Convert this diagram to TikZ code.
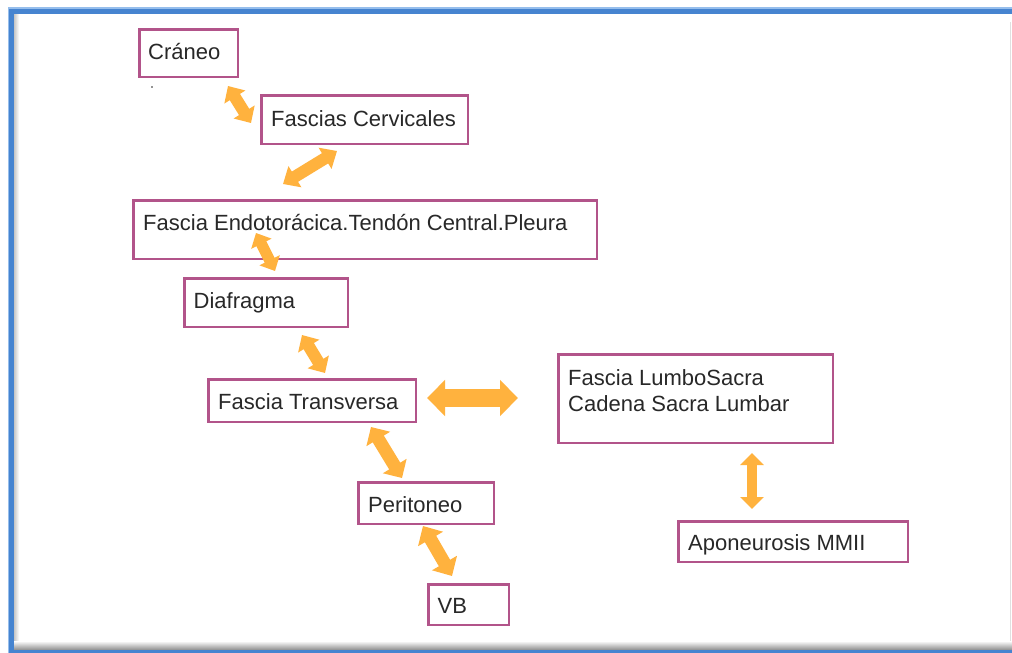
\documentclass[tikz,border=0pt]{standalone}
\usepackage{fontspec}
\setmainfont{Liberation Sans}
\usetikzlibrary{arrows.meta,calc}
\definecolor{boxrim}{RGB}{178,84,138}
\definecolor{linkorange}{RGB}{255,178,62}
\definecolor{frameblue}{RGB}{70,132,208}
\definecolor{framelight}{RGB}{150,190,236}
\definecolor{inktext}{RGB}{40,40,40}

\begin{document}
\begin{tikzpicture}[x=1pt,y=-1pt,
  box/.style={draw=boxrim, line width=2.6pt, rectangle, inner sep=0pt, anchor=north west},
  lbl/.style={text=inktext, font=\fontsize{22}{26}\selectfont, anchor=base west, inner sep=0pt},
  dblarrow/.style n args={3}{draw=linkorange, fill=linkorange, line width=#1,
    arrows={Triangle[width=#2,length=#3]-Triangle[width=#2,length=#3]}}]

\useasboundingbox (0,0) rectangle (1012,653);
\clip (0,0) rectangle (1012,653);

% window frame
\fill[framelight] (8,7) rectangle (1030,670);
\fill[frameblue] (9,8.5) rectangle (1030,670);
\fill[white] (14,14) rectangle (1030,650);
\shade[left color=black!22, right color=white] (14,14) rectangle (19,650);
\shade[top color=white, bottom color=black!45] (14,641) rectangle (1030,650);
\fill[frameblue] (9,650) rectangle (1030,660);
\draw[black!12, line width=1pt] (1010.5,22) -- (1010.5,641);

% boxes (path inset by half the rim width)
\node[box, minimum width=98.4pt,  minimum height=47.4pt] (cr) at (138.3,28.3) {};
\node[box, minimum width=206.4pt, minimum height=48.4pt] (fc) at (260.3,94.3) {};
\node[box, minimum width=463.4pt, minimum height=58.4pt] (fe) at (132.3,199.3) {};
\node[box, minimum width=163.4pt, minimum height=48.4pt] (di) at (183.3,277.3) {};
\node[box, minimum width=207.4pt, minimum height=42.4pt] (ft) at (207.3,378.3) {};
\node[box, minimum width=274.4pt, minimum height=88.4pt] (ls) at (557.3,353.3) {};
\node[box, minimum width=135.4pt, minimum height=41.4pt] (pe) at (357.3,481.3) {};
\node[box, minimum width=80.4pt,  minimum height=40.4pt] (vb) at (427.3,583.3) {};
\node[box, minimum width=229.4pt, minimum height=40.4pt] (ap) at (677.3,520.3) {};

% labels
\node[lbl] (tcr) at ($(cr.north west)+(9.7,30.7)$) {Cráneo};
\node[lbl] (tfc) at ($(fc.north west)+(10.7,31.7)$) {Fascias Cervicales};
\node[lbl] (tfe) at ($(fe.north west)+(10.7,31.2)$) {Fascia Endotorácica.Tendón Central.Pleura};
\node[lbl] (tdi) at ($(di.north west)+(10.2,31)$) {Diafragma};
\node[lbl] (tft) at ($(ft.north west)+(10.7,31.2)$) {Fascia Transversa};
\node[lbl] (tls1) at ($(ls.north west)+(10.7,31.7)$) {Fascia LumboSacra};
\node[lbl] (tls2) at ($(ls.north west)+(10.7,57.7)$) {Cadena Sacra Lumbar};
\node[lbl] (tpe) at ($(pe.north west)+(10.7,31.4)$) {Peritoneo};
\node[lbl] (tvb) at ($(vb.north west)+(10.2,29.7)$) {VB};
\node[lbl] (tap) at ($(ap.north west)+(10.7,29.7)$) {Aponeurosis MMII};

% stray dot under the first box
\fill[inktext] (152,87) circle (0.8);

% arrow end points
\coordinate (a1s) at (228,86);   \coordinate (a1e) at (251,123);
\coordinate (a2s) at (337,151);  \coordinate (a2e) at (283,184);
\coordinate (a3s) at (256,233);  \coordinate (a3e) at (275,271);
\coordinate (a4s) at (302,335);  \coordinate (a4e) at (325,373);
\coordinate (a5s) at (427,398);  \coordinate (a5e) at (518,398);
\coordinate (a6s) at (371,427);  \coordinate (a6e) at (402,478);
\coordinate (a7s) at (423,526);  \coordinate (a7e) at (452,576);
\coordinate (a8s) at (752,453);  \coordinate (a8e) at (752,509);

% double arrows
\draw[dblarrow={12pt}{24pt}{13pt}] (a1s) -- (a1e);
\draw[dblarrow={12pt}{24pt}{14pt}] (a2s) -- (a2e);
\draw[dblarrow={11pt}{22pt}{12pt}] (a3s) -- (a3e);
\draw[dblarrow={12pt}{24pt}{13pt}] (a4s) -- (a4e);
\draw[dblarrow={18pt}{35pt}{18pt}] (a5s) -- (a5e);
\draw[dblarrow={13pt}{27pt}{14pt}] (a6s) -- (a6e);
\draw[dblarrow={13pt}{28pt}{15pt}] (a7s) -- (a7e);
\draw[dblarrow={10pt}{23pt}{12pt}] (a8s) -- (a8e);
\end{tikzpicture}
\end{document}
